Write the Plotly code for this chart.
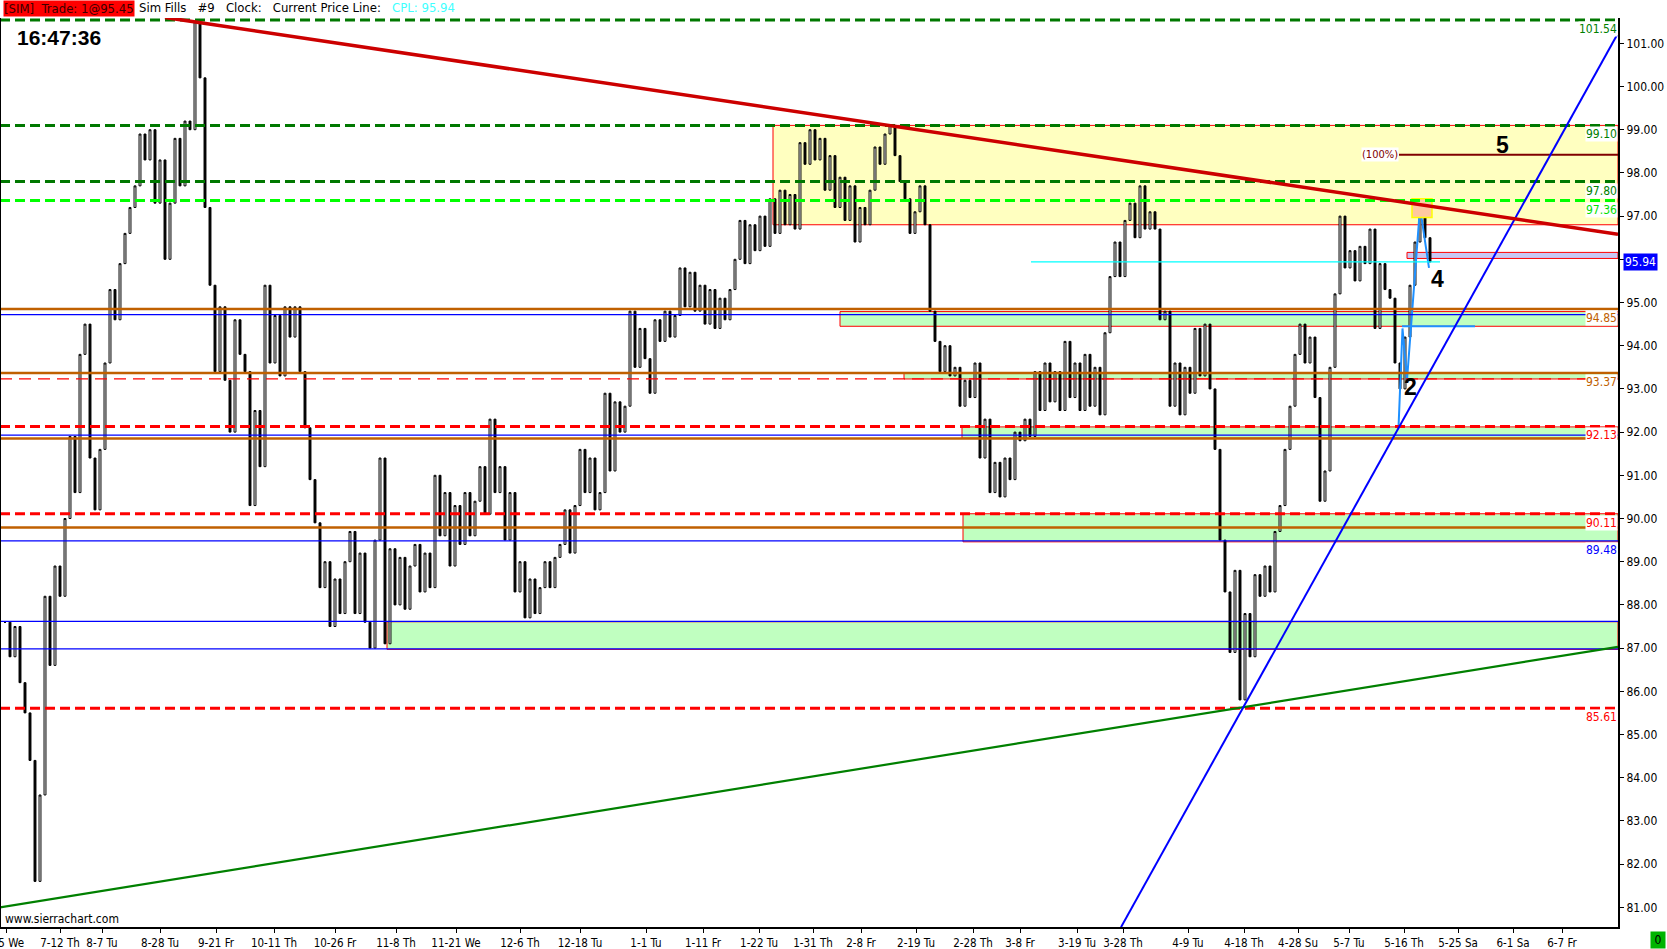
import numpy as np
import plotly.graph_objects as go

# one close per bar slot, bar 1 is the first bar at the left edge
closes = [
    87.6, 86.8, 87.5, 86.2, 85.5, 84.4, 81.6, 83.6, 88.2, 86.6,
    88.9, 88.2, 90.0, 91.9, 90.6, 93.8, 94.5, 91.4, 90.2, 91.6,
    93.6, 95.3, 94.6, 95.9, 96.6, 97.2, 97.7, 98.9, 98.3, 99.0,
    97.3, 98.3, 96.0, 97.3, 98.8, 97.7, 99.2, 99.0, 101.5, 100.2,
    97.2, 95.4, 93.4, 94.9, 93.2, 92.0, 94.6, 93.8, 93.4, 90.3,
    92.5, 91.2, 95.4, 93.6, 94.7, 93.3, 94.9, 94.2, 94.9, 93.4,
    92.1, 90.9, 89.9, 88.4, 89.0, 87.5, 88.6, 87.8, 89.0, 89.7,
    87.8, 89.2, 87.6, 87.0, 89.5, 91.4, 87.1, 89.3, 88.0, 89.1,
    87.9, 88.9, 89.4, 88.3, 89.2, 88.4, 91.0, 89.6, 90.6, 88.9,
    90.3, 89.4, 90.6, 89.6, 90.4, 91.2, 90.1, 92.3, 90.6, 91.2,
    89.5, 90.6, 88.3, 89.0, 87.7, 88.6, 87.8, 88.4, 89.0, 88.4,
    89.1, 89.4, 90.2, 89.2, 90.3, 91.6, 90.6, 91.4, 90.2, 90.6,
    92.9, 91.1, 92.7, 92.0, 92.6, 94.8, 93.5, 94.4, 93.7, 92.9,
    94.6, 94.1, 94.8, 94.2, 94.7, 95.8, 94.9, 95.7, 94.8, 95.4,
    94.5, 95.3, 94.4, 95.1, 94.6, 95.3, 96.0, 96.9, 95.9, 96.8,
    96.2, 97.0, 96.3, 97.4, 96.6, 97.6, 96.8, 97.5, 96.7, 98.7,
    98.2, 99.0, 98.3, 98.8, 97.6, 98.4, 97.2, 97.9, 96.9, 97.7,
    96.4, 97.2, 96.8, 97.6, 98.6, 98.2, 98.9, 99.1, 98.4, 97.8,
    97.4, 96.6, 97.1, 97.7, 96.8, 94.8, 94.1, 93.4, 94.0, 93.3,
    93.5, 92.6, 93.2, 92.8, 93.6, 91.4, 92.3, 90.6, 91.3, 90.5,
    91.4, 90.9, 92.0, 91.8, 92.3, 91.9, 93.4, 92.5, 93.6, 92.7,
    93.4, 92.5, 94.1, 92.8, 93.6, 92.5, 93.8, 92.6, 93.5, 92.4,
    94.3, 95.6, 96.4, 95.6, 96.9, 97.3, 96.5, 97.7, 96.7, 97.1,
    96.7, 94.6, 94.8, 92.6, 93.6, 92.4, 93.5, 92.9, 94.4, 93.3,
    94.5, 93.0, 91.6, 89.5, 88.3, 86.9, 88.8, 85.8, 87.8, 86.8,
    88.7, 88.2, 88.9, 88.3, 89.7, 90.3, 91.6, 92.6, 93.8, 94.5,
    93.6, 94.2, 92.8, 90.4, 91.1, 93.5, 95.2, 97.0, 95.8, 96.2,
    95.5, 96.3, 95.9, 96.7, 94.4, 95.9, 95.3, 95.1, 93.6, 93.0,
    94.2, 95.4, 96.4, 97.1, 96.5, 95.94,
]

# date labels on the time scale (bar slot of each label)
tick_bars = [1.2, 12, 20.4, 32, 43.2, 54.8, 67, 79.2, 91.2, 104, 116, 129.2, 140.6, 151.8,
             162.6, 172.2, 183.2, 194.6, 204, 215.4, 224.6, 237.6, 248.8, 259.6, 269.8,
             280.8, 291.6, 302.6, 312.4]
tick_text = ["7-5 We", "7-12 Th", "8-7 Tu", "8-28 Tu", "9-21 Fr", "10-11 Th", "10-26 Fr",
             "11-8 Th", "11-21 We", "12-6 Th", "12-18 Tu", "1-1 Tu", "1-11 Fr", "1-22 Tu",
             "1-31 Th", "2-8 Fr", "2-19 Tu", "2-28 Th", "3-8 Fr", "3-19 Tu", "3-28 Th",
             "4-9 Tu", "4-18 Th", "4-28 Su", "5-7 Tu", "5-16 Th", "5-25 Sa", "6-1 Sa", "6-7 Fr"]
price_ticks = list(range(81, 102))

# horizontal levels
green_levels = [101.54, 99.10, 97.80]
lime_levels = [97.36]
red_dash_levels = [92.13, 90.11, 85.61]
orange_levels = [94.85, 93.37, 91.85, 89.79]
blue_levels = [94.72, 91.93, 89.48, 87.62, 86.98]
red_longdash_levels = [93.23]

# zones: start bar, top, bottom
yellow_zone = (154.6, 99.10, 96.80)
green_zones = [(168.0, 94.79, 94.45), (180.8, 93.37, 93.23), (192.4, 92.12, 91.86),
               (192.6, 90.11, 89.46), (77.4, 87.61, 86.97)]
lavender_zone = (281.4, 96.16, 96.02)
target_box = (282.4, 286.4, 97.40, 96.97)

# drawn lines: bar0, price0, bar1, price1
red_trend = (33.0, 101.60, 323.6, 96.58)
green_trend = (0.0, 81.00, 323.6, 87.03)
blue_trend = (224.2, 80.54, 323.4, 101.19)
target_line = (279.8, 98.42, 323.6, 98.42)
cpl_line = (206.2, 95.94, 288.0, 95.94)
swing_line = (280.4, 94.45, 295.0, 94.45)

zigzag_bars = [279.7, 280.5, 281.4, 284.0, 285.8]
zigzag_prices = [92.1, 94.4, 93.2, 97.2, 95.8]

level_labels = ["101.54", "99.10", "97.80", "97.36", "94.85", "93.37", "92.13", "90.11", "89.48", "85.61"]
level_label_colors = ["#008000", "#008000", "#008000", "#00e000", "#c06000", "#c06000",
                      "#ff0000", "#ff0000", "#0000ff", "#ff0000"]
wave_labels = [("2", 282.0, 93.05), ("4", 287.4, 95.54), ("5", 300.4, 98.64)]
current_price = 95.94

X_END = 323.6
AX_FONT = "DejaVu Sans Condensed, Liberation Sans, sans-serif"

bars = np.arange(1, len(closes) + 1)
opens = [closes[0]] + closes[:-1]
highs = [max(o, c) for o, c in zip(opens, closes)]
lows = [min(o, c) for o, c in zip(opens, closes)]

fig = go.Figure()
fig.add_trace(go.Candlestick(
    x=bars, open=opens, high=highs, low=lows, close=closes,
    increasing=dict(line=dict(color="black", width=1), fillcolor="white"),
    decreasing=dict(line=dict(color="black", width=1), fillcolor="black"),
    whiskerwidth=0, hoverinfo="skip", showlegend=False))

fig.add_trace(go.Scatter(x=zigzag_bars, y=zigzag_prices, mode="lines",
                         line=dict(color="#1e90ff", width=2), hoverinfo="skip", showlegend=False))

shapes = []

def zone(x0, top, bottom, fill):
    shapes.append(dict(type="rect", xref="x", yref="y", x0=x0, x1=X_END, y0=bottom, y1=top,
                       fillcolor=fill, line=dict(color="#ff0000", width=1), layer="below"))

zone(yellow_zone[0], yellow_zone[1], yellow_zone[2], "#ffffc0")
for z in green_zones:
    zone(z[0], z[1], z[2], "#c0ffc0")
zone(lavender_zone[0], lavender_zone[1], lavender_zone[2], "#c8c8f4")
shapes.append(dict(type="rect", xref="x", yref="y", x0=target_box[0], x1=target_box[1],
                   y0=target_box[3], y1=target_box[2], fillcolor="#ffc8a0",
                   line=dict(color="#ffff00", width=1.5)))

def level(p, color, width, dash="solid"):
    shapes.append(dict(type="line", xref="paper", yref="y", x0=0, x1=1, y0=p, y1=p,
                       line=dict(color=color, width=width, dash=dash)))

for p in blue_levels:
    level(p, "#0000ff", 1.2)
for p in red_longdash_levels:
    level(p, "#ff0000", 1.2, "12px,7px")
for p in orange_levels:
    level(p, "#c06000", 2.5)
for p in green_levels:
    level(p, "#007800", 3, "10px,5px")
for p in lime_levels:
    level(p, "#00ff00", 3, "10px,5px")
for p in red_dash_levels:
    level(p, "#ff0000", 3, "10px,5px")

def seg(s, color, width):
    shapes.append(dict(type="line", xref="x", yref="y", x0=s[0], y0=s[1], x1=s[2], y1=s[3],
                       line=dict(color=color, width=width)))

seg(cpl_line, "#00ffff", 1.2)
seg(swing_line, "#1e90ff", 2)
seg(target_line, "#800000", 2)
seg(green_trend, "#008000", 2.2)
seg(blue_trend, "#0000ff", 2)
seg(red_trend, "#cc0000", 3.5)

# frame at the left edge
shapes.append(dict(type="line", xref="paper", yref="paper", x0=0, x1=0, y0=0, y1=1,
                   line=dict(color="black", width=2)))

ann = []
levels_all = [float(t) for t in level_labels]
for t, p, c in zip(level_labels, levels_all, level_label_colors):
    ann.append(dict(x=1, xref="paper", y=p, yref="y", xanchor="right", yanchor="top",
                    yshift=-1, text=t, showarrow=False, bgcolor="white", borderpad=0,
                    font=dict(family=AX_FONT, size=12, color=c)))

ann.append(dict(x=target_line[0], xref="x", y=target_line[1], yref="y", xanchor="right",
                yanchor="middle", text="(100%)", showarrow=False, bgcolor="white", borderpad=0,
                font=dict(family=AX_FONT, size=11, color="#800000")))

for t, b, p in wave_labels:
    ann.append(dict(x=b, xref="x", y=p, yref="y", text="<b>%s</b>" % t, showarrow=False,
                    font=dict(family="Liberation Sans, Arial", size=23, color="black")))

ann.append(dict(x=1, xref="paper", y=current_price, yref="y", xanchor="left", xshift=5,
                text="%.2f" % current_price, showarrow=False, bgcolor="#0000ff", borderpad=1,
                font=dict(family=AX_FONT, size=12, color="white")))

ann.append(dict(x=1.0245, xref="paper", y=-0.0143, yref="paper", xanchor="center",
                yanchor="middle", text="0", showarrow=False, width=14, height=16,
                bgcolor="#00b400", borderpad=0, font=dict(family=AX_FONT, size=12, color="black")))

ann.append(dict(x=15 / 1618, xref="paper", y=0.979, yref="paper", xanchor="left",
                yanchor="middle", text="<b>16:47:36</b>", showarrow=False,
                font=dict(family="Liberation Sans, Arial", size=21, color="black")))

ann.append(dict(x=3 / 1618, xref="paper", y=0.009, yref="paper", xanchor="left",
                yanchor="middle", text="www.sierrachart.com", showarrow=False,
                font=dict(family=AX_FONT, size=12, color="black")))

# top status bar
ann.append(dict(x=3 / 1618, xref="paper", y=1, yref="paper", xanchor="left", yanchor="bottom",
                yshift=1, text="[SIM]&nbsp;&nbsp;Trade: 1@95.45", showarrow=False,
                bgcolor="#ff0000", borderpad=0,
                font=dict(family=AX_FONT, size=13, color="#3a0000")))
ann.append(dict(x=137 / 1618, xref="paper", y=1, yref="paper", xanchor="left", yanchor="bottom",
                yshift=1, showarrow=False,
                text="Sim Fills&nbsp;&nbsp;&nbsp;#9&nbsp;&nbsp;&nbsp;Clock:&nbsp;&nbsp;&nbsp;Current Price Line:"
                     "&nbsp;&nbsp;&nbsp;<span style='color:#40ffff'>CPL: 95.94</span>",
                font=dict(family=AX_FONT, size=13, color="black")))

fig.update_layout(
    width=1667, height=949,
    margin=dict(l=0, r=49, t=18, b=22, autoexpand=False),
    paper_bgcolor="white", plot_bgcolor="white",
    showlegend=False, boxgap=0.45,
    shapes=shapes, annotations=ann,
    xaxis=dict(range=[0, X_END], tickmode="array", tickvals=tick_bars, ticktext=tick_text,
               ticks="outside", ticklen=4, tickcolor="black", showline=True, linecolor="black",
               linewidth=2, showgrid=False, zeroline=False, tickangle=0, automargin=False,
               ticklabeloverflow="allow", rangeslider=dict(visible=False),
               tickfont=dict(family=AX_FONT, size=11.5, color="black")),
    yaxis=dict(range=[80.544, 101.586], side="right", tickmode="array", tickvals=price_ticks,
               ticktext=["%.2f" % v for v in price_ticks], ticks="outside", ticklen=4,
               tickcolor="black", showline=True, linecolor="black", linewidth=2,
               showgrid=False, zeroline=False, automargin=False,
               tickfont=dict(family=AX_FONT, size=12, color="black")),
)

fig.write_html("out.html", config={"displayModeBar": False},
               post_script="document.body.style.margin='0px';")
